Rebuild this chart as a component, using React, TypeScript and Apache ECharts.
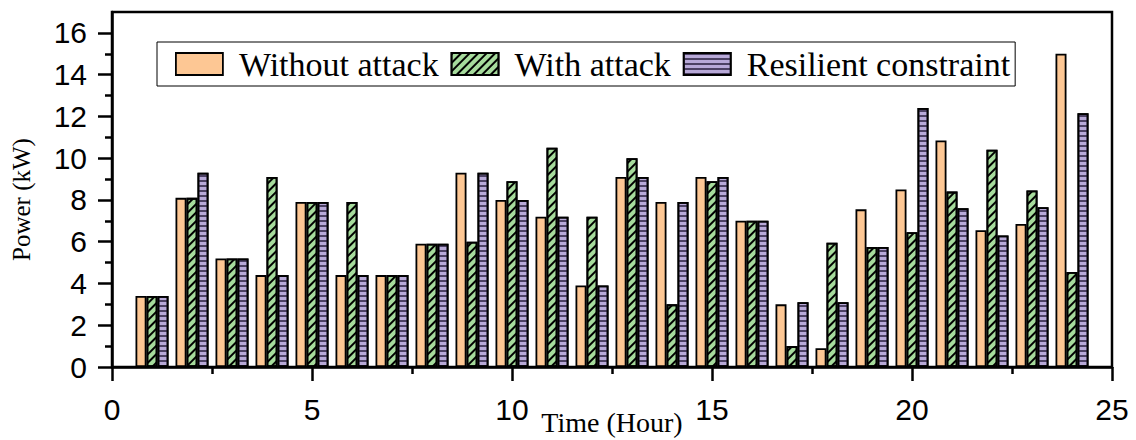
import React, { useEffect, useRef } from "react";
import * as echarts from "echarts";

// Hourly power (kW) under three operating scenarios
const hours = [1, 2, 3, 4, 5, 6, 7, 8, 9, 10, 11, 12, 13, 14, 15, 16, 17, 18, 19, 20, 21, 22, 23, 24];
const withoutAttack = [3.4, 8.1, 5.2, 4.4, 7.9, 4.4, 4.4, 5.9, 9.3, 8.0, 7.2, 3.9, 9.1, 7.9, 9.1, 7.0, 3.0, 0.9, 7.55, 8.5, 10.85, 6.55, 6.85, 15.0];
const withAttack = [3.4, 8.1, 5.2, 9.1, 7.9, 7.9, 4.4, 5.9, 6.0, 8.9, 10.5, 7.2, 10.0, 3.0, 8.9, 7.0, 1.0, 5.95, 5.75, 6.45, 8.4, 10.4, 8.45, 4.55];
const resilient = [3.4, 9.3, 5.2, 4.4, 7.9, 4.4, 4.4, 5.9, 9.3, 8.0, 7.2, 3.9, 9.1, 7.9, 9.1, 7.0, 3.1, 3.1, 5.75, 12.4, 7.6, 6.3, 7.65, 12.15];

const majorY = [0, 2, 4, 6, 8, 10, 12, 14, 16];
const minorY = [1, 3, 5, 7, 9, 11, 13, 15];

const SERIF = "'Liberation Serif', 'Times New Roman', serif";
const SANS = "'Liberation Sans', Arial, sans-serif";

export default function App() {
  const ref = useRef<HTMLDivElement>(null);

  useEffect(() => {
    if (!ref.current) return;
    const chart = echarts.init(ref.current, undefined, { renderer: "svg" });

    const pair = (vals: number[]) => hours.map((h, i) => [h, vals[i]]);
    const barBase = {
      type: "bar",
      barWidth: 11,
      barGap: "0%",
      itemStyle: { borderColor: "#000", borderWidth: 1.8 },
    };

    chart.setOption({
      animation: false,
      grid: {
        left: 112,
        top: 12,
        width: 1000,
        height: 355,
        show: true,
        borderColor: "#000",
        borderWidth: 2.5,
        containLabel: false,
        outerBoundsMode: "none",
      },
      legend: {
        left: 157,
        top: 42,
        padding: [5, 5, 5, 18],
        borderColor: "#000",
        borderWidth: 1,
        itemGap: 12,
        itemWidth: 47,
        itemHeight: 22,
        icon: "rect",
        textStyle: {
          fontFamily: SERIF,
          fontSize: 34,
          color: "#000",
          padding: [0, 0, 0, 11],
          lineHeight: 34,
        },
        itemStyle: { borderColor: "#000", borderWidth: 1.8 },
      },
      xAxis: {
        type: "value",
        min: 0,
        max: 25,
        interval: 5,
        name: "Time (Hour)",
        nameLocation: "middle",
        nameGap: 41,
        nameMoveOverlap: false,
        nameTextStyle: { fontFamily: SERIF, fontSize: 28, color: "#000" },
        axisLine: { show: true, lineStyle: { color: "#000", width: 2.5 } },
        axisTick: { show: true, length: 14, lineStyle: { color: "#000", width: 2.5 } },
        minorTick: { show: true, splitNumber: 2, length: 7, lineStyle: { color: "#000", width: 2.5 } },
        axisLabel: { fontFamily: SANS, fontSize: 30, color: "#000", margin: 27 },
        splitLine: { show: false },
      },
      yAxis: [
        {
          type: "value",
          min: 0,
          max: 17,
          interval: 2,
          name: "Power (kW)",
          nameLocation: "middle",
          nameGap: 78,
          nameMoveOverlap: false,
          nameTextStyle: { fontFamily: SERIF, fontSize: 25, color: "#000", padding: [0, 20, 0, 0] },
          axisLine: { show: true, lineStyle: { color: "#000", width: 2.5 } },
          axisTick: { show: true, length: 14, customValues: majorY, lineStyle: { color: "#000", width: 2.5 } },
          axisLabel: { fontFamily: SANS, fontSize: 30, color: "#000", margin: 25, customValues: majorY },
          splitLine: { show: false },
        },
        {
          type: "value",
          min: 0,
          max: 17,
          interval: 2,
          position: "left",
          axisLine: { show: false },
          axisTick: { show: true, length: 7, customValues: minorY, lineStyle: { color: "#000", width: 2.5 } },
          axisLabel: { show: false },
          splitLine: { show: false },
        },
      ],
      series: [
        {
          ...barBase,
          name: "Without attack",
          data: pair(withoutAttack),
          itemStyle: { ...barBase.itemStyle, color: "#FDC794" },
        },
        {
          ...barBase,
          name: "With attack",
          data: pair(withAttack),
          itemStyle: {
            ...barBase.itemStyle,
            color: "#A6DB9C",
            decal: {
              symbol: "rect",
              symbolSize: 1,
              color: "#000",
              dashArrayX: [1, 0],
              dashArrayY: [1.3, 3.6],
              rotation: -Math.PI / 4,
            },
          },
        },
        {
          ...barBase,
          name: "Resilient constraint",
          data: pair(resilient),
          itemStyle: {
            ...barBase.itemStyle,
            color: "#B8A9D8",
            decal: {
              symbol: "rect",
              symbolSize: 1,
              color: "rgba(40,30,60,0.75)",
              dashArrayX: [1, 0],
              dashArrayY: [1.1, 2.2],
              rotation: 0,
            },
          },
        },
      ],
    });

    return () => chart.dispose();
  }, []);

  return (
    <div
      ref={ref}
      style={{ position: "fixed", left: 0, top: 0, width: 1136, height: 440, background: "#fff" }}
    />
  );
}
